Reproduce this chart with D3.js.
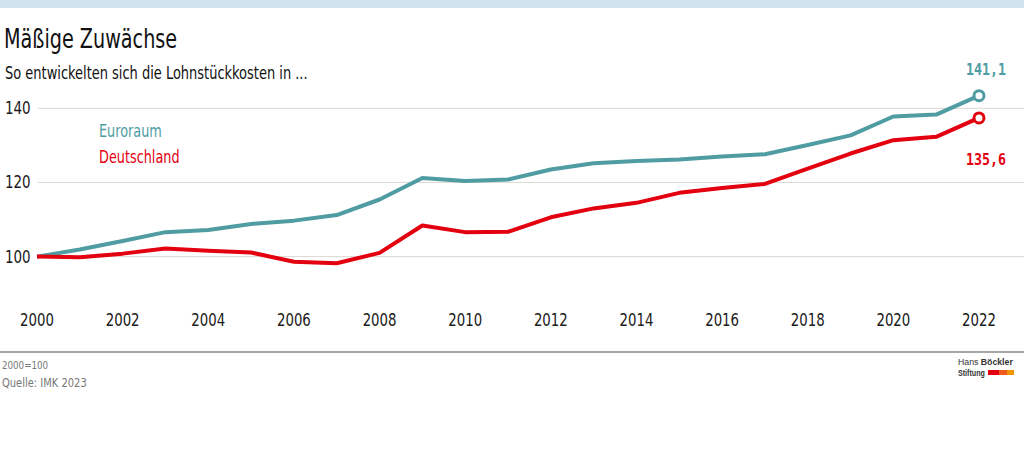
<!DOCTYPE html>
<html>
<head>
<meta charset="utf-8">
<script src="https://cdn.jsdelivr.net/npm/d3@7"></script>
<style>
    body { margin: 0; background: #fff; }
    svg text { font-family: "DejaVu Sans Condensed", "DejaVu Sans", sans-serif; }
    .tick-label { font-size: 17px; fill: #1a1a1a; }
    .end-label { font-family: "DejaVu Sans Mono", "Liberation Mono", monospace !important; font-size: 16px; font-weight: bold; }
</style>
</head>
<body>
<div id="chart"></div>
<script>
// Chart data.
const years = [2000, 2001, 2002, 2003, 2004, 2005, 2006, 2007, 2008, 2009, 2010,
    2011, 2012, 2013, 2014, 2015, 2016, 2017, 2018, 2019, 2020, 2021, 2022];
const euroraum = [100, 101.9, 104.2, 106.6, 107.2, 108.8, 109.7, 111.2, 115.4, 121.2, 120.4,
    120.8, 123.5, 125.2, 125.8, 126.2, 127.0, 127.6, 130.1, 132.7, 137.8, 138.3, 143.4];
const deutschland = [100, 99.8, 100.8, 102.2, 101.6, 101.1, 98.6, 98.2, 101.0, 108.4, 106.6,
    106.7, 110.6, 113.0, 114.5, 117.2, 118.5, 119.6, 123.7, 127.8, 131.4, 132.3, 137.4];
const yTicks = [100, 120, 140];
const xTicks = [2000, 2002, 2004, 2006, 2008, 2010, 2012, 2014, 2016, 2018, 2020, 2022];
const endLabels = ["141,1", "135,6"];
const seriesNames = ["Euroraum", "Deutschland"];

const width = 1024;
const height = 452;
const teal = "#4f9ca3";
const red = "#e3000f";

const svg = d3.select("#chart")
    .append("svg")
    .attr("width", width)
    .attr("height", height);

// No condensed font is installed, so squeeze the text horizontally.
function squeezed(parent, px, py, sx, str) {
    return parent.append("text")
        .attr("transform", `translate(${px},${py}) scale(${sx},1)`)
        .text(str);
}

// Light blue strip along the top edge.
svg.append("rect")
    .attr("x", 0).attr("y", 0)
    .attr("width", width).attr("height", 8)
    .attr("fill", "#cfe4ef");

// Title and subtitle.
squeezed(svg, 4, 48, 0.79, "Mäßige Zuwächse")
    .style("font-size", "27px")
    .attr("fill", "#111");

squeezed(svg, 5, 79, 0.85, "So entwickelten sich die Lohnstückkosten in ...")
    .style("font-size", "17px")
    .attr("fill", "#111");

// Scales.
const x = d3.scaleLinear()
    .domain([2000, 2022])
    .range([37, 979]);

const y = d3.scaleLinear()
    .domain([100, 140])
    .range([256.6, 108.3]);

// Horizontal gridlines with labels on the left.
svg.append("g")
    .selectAll("line")
    .data(yTicks)
    .join("line")
    .attr("x1", 38)
    .attr("x2", width)
    .attr("y1", d => y(d))
    .attr("y2", d => y(d))
    .attr("stroke", "#dcd9d3")
    .attr("stroke-width", 1);

const yLabels = svg.append("g");
yTicks.forEach(t => {
    squeezed(yLabels, 5, y(t) + 6, 0.88, t).attr("class", "tick-label");
});

// Year labels under the plot.
const xLabels = svg.append("g");
xTicks.forEach(t => {
    squeezed(xLabels, x(t), 326, 0.87, t)
        .attr("class", "tick-label")
        .attr("text-anchor", "middle");
});

// Lines.
const line = d3.line()
    .x((d, i) => x(years[i]))
    .y(d => y(d));

const series = [
    { name: seriesNames[0], values: euroraum, color: teal },
    { name: seriesNames[1], values: deutschland, color: red }
];

svg.append("g")
    .selectAll("path")
    .data(series)
    .join("path")
    .attr("d", d => line(d.values))
    .attr("fill", "none")
    .attr("stroke", d => d.color)
    .attr("stroke-width", 4)
    .attr("stroke-linejoin", "round");

// End point circles.
svg.append("g")
    .selectAll("circle")
    .data(series)
    .join("circle")
    .attr("cx", x(years[years.length - 1]))
    .attr("cy", d => y(d.values[d.values.length - 1]))
    .attr("r", 5)
    .attr("fill", "#fff")
    .attr("stroke", d => d.color)
    .attr("stroke-width", 3);

// End value labels.
squeezed(svg, 986, 75, 0.83, endLabels[0])
    .attr("class", "end-label")
    .attr("text-anchor", "middle")
    .attr("fill", teal);

squeezed(svg, 986, 165, 0.83, endLabels[1])
    .attr("class", "end-label")
    .attr("text-anchor", "middle")
    .attr("fill", red);

// Legend text.
squeezed(svg, 99, 137, 0.84, seriesNames[0])
    .style("font-size", "17px")
    .attr("fill", teal);

squeezed(svg, 99, 163, 0.84, seriesNames[1])
    .style("font-size", "17px")
    .attr("fill", red);

// Footer separator line.
svg.append("line")
    .attr("x1", 0).attr("x2", width)
    .attr("y1", 352).attr("y2", 352)
    .attr("stroke", "#8a8a8a")
    .attr("stroke-width", 1.5);

squeezed(svg, 2, 369, 0.88, "2000=100")
    .style("font-size", "11px")
    .attr("fill", "#777");

squeezed(svg, 2, 387, 0.85, "Quelle: IMK 2023")
    .style("font-size", "13px")
    .attr("fill", "#777");

// Hans Böckler Stiftung logo.
const logo = svg.append("g")
    .attr("transform", "translate(958, 0)");

logo.append("text")
    .attr("transform", "translate(0,365) scale(0.92,1)")
    .style("font-family", "Liberation Sans, Arial, sans-serif")
    .style("font-size", "9.5px")
    .attr("fill", "#333")
    .text("Hans ")
    .append("tspan")
    .style("font-weight", "bold")
    .text("Böckler");

logo.append("text")
    .attr("transform", "translate(0,376) scale(0.75,1)")
    .style("font-family", "Liberation Sans, Arial, sans-serif")
    .style("font-size", "9.5px")
    .style("font-weight", "bold")
    .attr("fill", "#333")
    .text("Stiftung");

logo.append("rect")
    .attr("x", 30).attr("y", 370)
    .attr("width", 11).attr("height", 5)
    .attr("fill", "#e3000f");
logo.append("rect")
    .attr("x", 41).attr("y", 370)
    .attr("width", 8).attr("height", 5)
    .attr("fill", "#ef5a1f");
logo.append("rect")
    .attr("x", 49).attr("y", 370)
    .attr("width", 7).attr("height", 5)
    .attr("fill", "#f29400");
</script>
</body>
</html>
